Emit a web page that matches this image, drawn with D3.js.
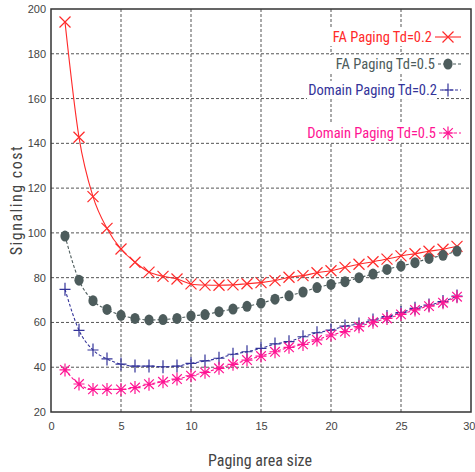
<!DOCTYPE html>
<html><head><meta charset="utf-8">
<script src="https://cdn.jsdelivr.net/npm/d3@7"></script>
<style>
html,body{margin:0;padding:0;background:#fff;}
svg{display:block;font-family:"Liberation Sans Narrow","Roboto Condensed","DejaVu Sans Condensed",sans-serif;}
</style></head>
<body><svg id="c" width="475" height="472"></svg>
<script>
const xValues = d3.range(1, 30);
const faTd02 = [194.2,142.7,116.2,102,92.8,86.9,82.5,80.6,79.4,77.2,76.7,76.6,76.8,77.3,77.8,78.7,80.2,80.9,82.2,83.1,84.6,86,87.1,88.3,89.7,90.7,91.8,92.7,94];
const faTd05 = [98.6,78.9,69.7,65.8,63.2,61.8,61.1,61.3,61.8,62.9,63.5,64.8,66,67.2,68.6,70.4,71.9,73.6,75.6,77,78.2,80,81.6,83.7,85.2,86.7,88.6,90,91.9];
const domTd02 = [74.8,56.5,47.7,43.7,41.4,40.5,40.5,40.2,40.5,41.7,42.8,44,45.8,46.9,48.4,50.4,51.4,53.6,55.4,56.6,58.4,59.3,61.1,62.6,64.4,66.3,67.8,69.3,71.8];
const domTd05 = [38.8,32.5,30.1,30.1,30.1,30.9,32.4,33.5,34.7,36.2,37.7,39.5,41.3,43.2,45,46.9,48.9,50.2,52.2,54.4,55.9,58.1,60.1,61.8,63.6,65.6,67.3,68.8,71.5];
const seriesNames = ["FA Paging Td=0.2","FA Paging Td=0.5","Domain Paging Td=0.2","Domain Paging Td=0.5"];
const xTicks = [0,5,10,15,20,25,30];
const yTicks = [20,40,60,80,100,120,140,160,180,200];
const xTitle = "Paging area size";
const yTitle = "Signaling cost";

const colors = ["#ff2a2a","#4d5c5c","#333399","#ff1493"];
const markers = ["x","circle","plus","star"];
const dashes = [null,"3,2","3,2","3,2"];
const allSeries = [faTd02, faTd05, domTd02, domTd05];

const svg = d3.select("#c");
const L=51, R=471, T=9, B=412;
const x = d3.scaleLinear().domain([0,30]).range([L,R]);
const y = d3.scaleLinear().domain([20,200]).range([B,T]);

// grid
const g = svg.append("g");
g.selectAll(".gx").data(xTicks.slice(1,-1)).enter().append("line")
 .attr("x1",d=>x(d)).attr("x2",d=>x(d)).attr("y1",T).attr("y2",B)
 .attr("stroke","#555").attr("stroke-width",1).attr("stroke-dasharray","3,2");
g.selectAll(".gy").data(yTicks.slice(1,-1)).enter().append("line")
 .attr("y1",d=>y(d)).attr("y2",d=>y(d)).attr("x1",L).attr("x2",R)
 .attr("stroke","#555").attr("stroke-width",1).attr("stroke-dasharray","3,2");

// axes
const xa = svg.append("g").attr("transform",`translate(0,${B})`)
  .call(d3.axisBottom(x).tickValues(xTicks).tickSize(0).tickPadding(10).tickFormat(d3.format("d")));
const ya = svg.append("g").attr("transform",`translate(${L},0)`)
  .call(d3.axisLeft(y).tickValues(yTicks).tickSize(0).tickPadding(5).tickFormat(d3.format("d")));
[xa,ya].forEach(a=>{a.select(".domain").remove();
  a.selectAll("text").attr("fill","#444").style("font-size","11px").style("font-family","'Liberation Sans Narrow',sans-serif");});
// last x label sits at the window edge; keep it inside
xa.selectAll(".tick").filter(d=>d===30).select("text").attr("text-anchor","end").attr("dx","4");

// frame
svg.append("rect").attr("x",L).attr("y",T).attr("width",R-L).attr("height",B-T)
  .attr("fill","none").attr("stroke","#333").attr("stroke-width",1.5);

function drawMarker(sel, type, color){
  const s=5.5;
  if(type==="x"){
    sel.append("path").attr("d",`M${-s},${-s}L${s},${s}M${-s},${s}L${s},${-s}`).attr("stroke",color).attr("stroke-width",1.2).attr("fill","none");
  } else if(type==="circle"){
    sel.append("ellipse").attr("rx",4.6).attr("ry",5.5).attr("fill",color);
  } else if(type==="plus"){
    sel.append("path").attr("d",`M${-s},0L${s},0M0,${-s-1}L0,${s+1}`).attr("stroke",color).attr("stroke-width",1.2).attr("fill","none");
  } else {
    const a=4.8;
    sel.append("path").attr("d",`M0,${-s-1}L0,${s+1}M${-a},${-a}L${a},${a}M${-a},${a}L${a},${-a}M${-s},0L${s},0`).attr("stroke",color).attr("stroke-width",1.2).attr("fill","none");
  }
}

const line = d3.line().x((d,i)=>x(xValues[i])).y(d=>y(d)).curve(d3.curveMonotoneX);
allSeries.forEach((vals,k)=>{
  svg.append("path").datum(vals).attr("d",line).attr("fill","none")
    .attr("stroke",colors[k]).attr("stroke-width",1.1)
    .attr("stroke-dasharray",dashes[k]);
  svg.append("g").selectAll("g").data(vals).enter().append("g")
    .attr("transform",(d,i)=>`translate(${x(xValues[i])},${y(d)})`)
    .each(function(){drawMarker(d3.select(this),markers[k],colors[k]);});
});

// legend
const legY = [37,64,90,133];
const legTextEnd = [432,435,437,436];
seriesNames.forEach((n,k)=>{
  svg.append("rect").attr("x",legTextEnd[k]-130).attr("y",legY[k]-9).attr("width",130).attr("height",18).attr("fill","#fff");
  svg.append("text").attr("x",legTextEnd[k]).attr("y",legY[k]).attr("dy","0.35em")
    .attr("text-anchor","end").attr("fill",colors[k]).style("font-size","14.5px").text(n);
  svg.append("line").attr("x1",legTextEnd[k]+3).attr("x2",461).attr("y1",legY[k]).attr("y2",legY[k])
    .attr("stroke",colors[k]).attr("stroke-width",1.1).attr("stroke-dasharray",dashes[k]);
  const mg = svg.append("g").attr("transform",`translate(448,${legY[k]})`);
  drawMarker(mg, markers[k], colors[k]);
});

// titles
svg.append("text").attr("x",260).attr("y",466).attr("text-anchor","middle")
  .attr("fill","#444").style("font-size","16px").text(xTitle);
svg.append("text").attr("transform","translate(22,200) rotate(-90)").attr("text-anchor","middle")
  .attr("fill","#444").style("font-size","16px").style("letter-spacing","1.5px").text(yTitle);
</script></body></html>
